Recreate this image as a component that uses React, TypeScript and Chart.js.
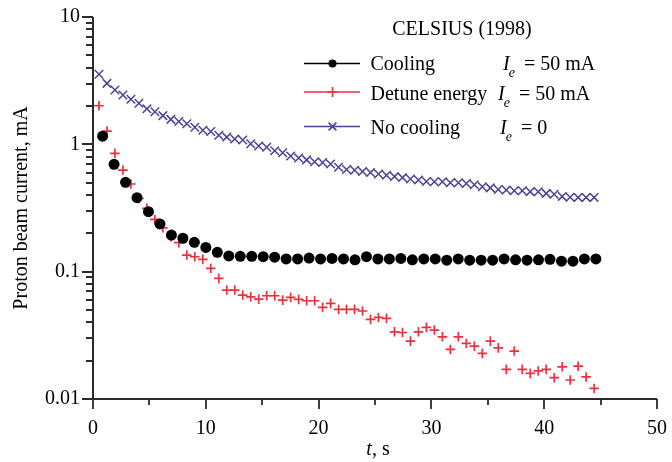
import React, { useEffect, useRef } from 'react';
import { Chart, registerables } from 'chart.js';

Chart.register(...registerables);

const FONT = '"Liberation Serif", "Times New Roman", Times, serif';
const AXIS_COLOR = '#2b2b2b';
const COOL_COLOR = '#000000';
const DETUNE_COLOR = '#e8323e';
const NOCOOL_COLOR = '#4a4199';

// Sampling times (s)
const coolingStart = 0.85;
const coolingStep = 1.017;
const sampleStart = 0.53;
const sampleStep = 0.708;

// Proton beam current, mA
const coolingValues = [
  1.16, 0.697, 0.503, 0.381, 0.296, 0.237, 0.194, 0.183, 0.17, 0.155, 0.142,
  0.133, 0.132, 0.132, 0.131, 0.13, 0.126, 0.126, 0.128, 0.126, 0.127, 0.126,
  0.124, 0.131, 0.126, 0.126, 0.127, 0.124, 0.126, 0.126, 0.123, 0.126, 0.123,
  0.123, 0.123, 0.126, 0.124, 0.123, 0.124, 0.125, 0.121, 0.121, 0.126, 0.126,
];

const detuneValues = [
  2.01, 1.27, 0.85, 0.628, 0.488, 0.376, 0.314, 0.257, 0.221, 0.188, 0.169,
  0.135, 0.131, 0.125, 0.106, 0.0886, 0.0717, 0.0717, 0.0655, 0.0635, 0.0609,
  0.0647, 0.0647, 0.0598, 0.0628, 0.0606, 0.0591, 0.0591, 0.0524, 0.0564, 0.0506,
  0.0506, 0.0506, 0.0491, 0.0422, 0.0437, 0.043, 0.0337, 0.0333, 0.0285, 0.0337,
  0.0365, 0.0348, 0.0308, 0.0245, 0.0308, 0.0273, 0.026, 0.0228, 0.0285, 0.0252,
  0.0171, 0.0238, 0.0171, 0.0159, 0.0166, 0.0171, 0.0147, 0.0179, 0.0141, 0.0181,
  0.0149, 0.0121,
];

const noCoolingValues = [
  3.55, 3.01, 2.67, 2.44, 2.26, 2.1, 1.9, 1.8, 1.68, 1.57, 1.51, 1.45, 1.36,
  1.29, 1.26, 1.18, 1.14, 1.1, 1.08, 1.01, 0.97, 0.95, 0.89, 0.86, 0.81, 0.78,
  0.755, 0.73, 0.72, 0.7, 0.66, 0.635, 0.625, 0.612, 0.6, 0.585, 0.572, 0.558,
  0.548, 0.535, 0.525, 0.51, 0.508, 0.508, 0.5, 0.499, 0.492, 0.482, 0.465,
  0.455, 0.442, 0.438, 0.432, 0.432, 0.425, 0.424, 0.412, 0.405, 0.39, 0.384,
  0.383, 0.383, 0.383,
];

const xTickValues = [0, 10, 20, 30, 40, 50];
const xTickLabels = ['0', '10', '20', '30', '40', '50'];
const yTickValues = [0.01, 0.1, 1, 10];
const yTickLabels = ['0.01', '0.1', '1', '10'];

const legendTitle = 'CELSIUS (1998)';
const legendLabels = ['Cooling', 'Detune energy', 'No cooling'];
const legendCurrents = ['50 mA', '50 mA', '0'];
const yAxisTitle = 'Proton beam current, mA';

function drawMarker(ctx: CanvasRenderingContext2D, style: string, x: number, y: number, r: number, color: string) {
  ctx.save();
  ctx.strokeStyle = color;
  ctx.fillStyle = color;
  ctx.lineWidth = 1.6;
  ctx.beginPath();
  if (style === 'circle') {
    ctx.arc(x, y, r, 0, Math.PI * 2);
    ctx.fill();
  } else if (style === 'cross') {
    ctx.moveTo(x - r, y);
    ctx.lineTo(x + r, y);
    ctx.moveTo(x, y - r);
    ctx.lineTo(x, y + r);
    ctx.stroke();
  } else {
    const d = r * 0.7071;
    ctx.moveTo(x - d, y - d);
    ctx.lineTo(x + d, y + d);
    ctx.moveTo(x + d, y - d);
    ctx.lineTo(x - d, y + d);
    ctx.stroke();
  }
  ctx.restore();
}

const axesPlugin = {
  id: 'customAxes',
  afterDraw(chart: any) {
    const { ctx, chartArea } = chart;
    const xs = chart.scales.x;
    const ys = chart.scales.y;
    ctx.save();
    ctx.strokeStyle = AXIS_COLOR;
    ctx.lineWidth = 2;
    ctx.beginPath();
    ctx.moveTo(chartArea.left, chartArea.top);
    ctx.lineTo(chartArea.left, chartArea.bottom);
    ctx.lineTo(chartArea.right, chartArea.bottom);
    ctx.stroke();

    ctx.lineWidth = 1.8;
    ctx.beginPath();
    for (let v = 0; v <= 50; v += 5) {
      const px = Math.round(xs.getPixelForValue(v));
      const len = v % 10 === 0 ? 10 : 6;
      ctx.moveTo(px, chartArea.bottom);
      ctx.lineTo(px, chartArea.bottom + len);
    }
    const decades = [0.01, 0.1, 1];
    decades.forEach((d) => {
      for (let m = 1; m <= 9; m++) {
        const py = Math.round(ys.getPixelForValue(m * d));
        const len = m === 1 ? 11 : 7;
        ctx.moveTo(chartArea.left, py);
        ctx.lineTo(chartArea.left - len, py);
      }
    });
    const pTop = Math.round(ys.getPixelForValue(10));
    ctx.moveTo(chartArea.left, pTop);
    ctx.lineTo(chartArea.left - 11, pTop);
    ctx.stroke();

    // x-axis title: italic "t" followed by ", s"
    const cx = (chartArea.left + chartArea.right) / 2 + 3;
    const by = chartArea.bottom + 56;
    ctx.fillStyle = '#000';
    ctx.textBaseline = 'alphabetic';
    ctx.textAlign = 'left';
    ctx.font = `italic 20px ${FONT}`;
    const wt = ctx.measureText('t').width;
    ctx.font = `20px ${FONT}`;
    const ws = ctx.measureText(', s').width;
    const start = cx - (wt + ws) / 2;
    ctx.font = `italic 20px ${FONT}`;
    ctx.fillText('t', start, by);
    ctx.font = `20px ${FONT}`;
    ctx.fillText(', s', start + wt, by);
    ctx.restore();
  },
};

const legendPlugin = {
  id: 'customLegend',
  afterDraw(chart: any) {
    const { ctx } = chart;
    ctx.save();
    ctx.fillStyle = '#000';
    ctx.textBaseline = 'alphabetic';
    ctx.font = `20px ${FONT}`;
    ctx.textAlign = 'center';
    ctx.fillText(legendTitle, 462, 35);

    const lineY = [63.5, 92, 126.5];
    const textY = [70, 99.5, 133.5];
    const iX = [503, 498, 500];
    const styles = ['circle', 'cross', 'crossRot'];
    const colors = [COOL_COLOR, DETUNE_COLOR, NOCOOL_COLOR];
    const radii = [4, 5, 5.5];
    legendLabels.forEach((label, i) => {
      ctx.strokeStyle = colors[i];
      ctx.lineWidth = 1.6;
      ctx.beginPath();
      ctx.moveTo(304, lineY[i]);
      ctx.lineTo(360, lineY[i]);
      ctx.stroke();
      drawMarker(ctx, styles[i], 332.5, lineY[i], radii[i], colors[i]);

      ctx.fillStyle = '#000';
      ctx.textAlign = 'left';
      ctx.font = `20px ${FONT}`;
      ctx.fillText(label, 370.5, textY[i]);

      ctx.font = `italic 20px ${FONT}`;
      ctx.fillText('I', iX[i], textY[i]);
      const wI = ctx.measureText('I').width;
      ctx.font = `italic 14px ${FONT}`;
      ctx.fillText('e', iX[i] + wI - 1, textY[i] + 7);
      ctx.font = `20px ${FONT}`;
      ctx.fillText('= ' + legendCurrents[i], iX[i] + 21, textY[i]);
    });
    ctx.restore();
  },
};

export default function App() {
  const canvasRef = useRef<HTMLCanvasElement | null>(null);

  useEffect(() => {
    if (!canvasRef.current) return;
    const cooling = coolingValues.map((v, i) => ({ x: coolingStart + i * coolingStep, y: v }));
    const detune = detuneValues.map((v, i) => ({ x: sampleStart + i * sampleStep, y: v }));
    const noCooling = noCoolingValues.map((v, i) => ({ x: sampleStart + i * sampleStep, y: v }));

    const chart = new Chart(canvasRef.current, {
      type: 'scatter',
      data: {
        datasets: [
          {
            label: legendLabels[0],
            data: cooling,
            pointStyle: 'circle',
            pointRadius: 5.5,
            pointBackgroundColor: COOL_COLOR,
            pointBorderColor: COOL_COLOR,
            pointBorderWidth: 0,
            showLine: false,
          },
          {
            label: legendLabels[1],
            data: detune,
            pointStyle: 'cross',
            pointRadius: 4.8,
            pointBorderColor: DETUNE_COLOR,
            pointBackgroundColor: DETUNE_COLOR,
            pointBorderWidth: 1.7,
            showLine: false,
          },
          {
            label: legendLabels[2],
            data: noCooling,
            pointStyle: 'crossRot',
            pointRadius: 6,
            pointBorderColor: NOCOOL_COLOR,
            pointBackgroundColor: NOCOOL_COLOR,
            pointBorderWidth: 1.5,
            showLine: false,
          },
        ],
      },
      options: {
        responsive: false,
        animation: false,
        devicePixelRatio: 1,
        layout: { padding: { left: 0, right: 15, top: 17, bottom: 0 } },
        plugins: {
          legend: { display: false },
          tooltip: { enabled: false },
        },
        scales: {
          x: {
            type: 'linear',
            min: 0,
            max: 50,
            grid: { display: false, drawTicks: false },
            border: { display: false },
            afterBuildTicks: (scale: any) => {
              scale.ticks = xTickValues.map((v) => ({ value: v }));
            },
            afterFit: (scale: any) => {
              scale.height = 63;
              scale.paddingLeft = 0;
              scale.paddingRight = 0;
              scale.paddingTop = 0;
              scale.paddingBottom = 0;
            },
            ticks: {
              autoSkip: false,
              maxRotation: 0,
              padding: 18,
              color: '#000',
              font: { family: FONT, size: 20 },
              callback: (_v: any, i: number) => xTickLabels[i],
            },
          },
          y: {
            type: 'logarithmic',
            min: 0.01,
            max: 10,
            grid: { display: false, drawTicks: false },
            border: { display: false },
            afterBuildTicks: (scale: any) => {
              scale.ticks = yTickValues.map((v) => ({ value: v }));
            },
            afterFit: (scale: any) => {
              scale.width = 93;
              scale.paddingLeft = 0;
              scale.paddingRight = 0;
              scale.paddingTop = 0;
              scale.paddingBottom = 0;
            },
            title: {
              display: true,
              text: yAxisTitle,
              color: '#000',
              font: { family: FONT, size: 20 },
              padding: { top: 10, bottom: 0 },
            },
            ticks: {
              autoSkip: false,
              padding: 13,
              color: '#000',
              font: { family: FONT, size: 20 },
              callback: (_v: any, i: number) => yTickLabels[i],
            },
          },
        },
      } as any,
      plugins: [axesPlugin, legendPlugin],
    });
    return () => chart.destroy();
  }, []);

  return (
    <div style={{ position: 'fixed', left: 0, top: 0, width: 672, height: 462, background: '#fff' }}>
      <canvas ref={canvasRef} width={672} height={462} style={{ width: 672, height: 462, display: 'block' }} />
    </div>
  );
}
